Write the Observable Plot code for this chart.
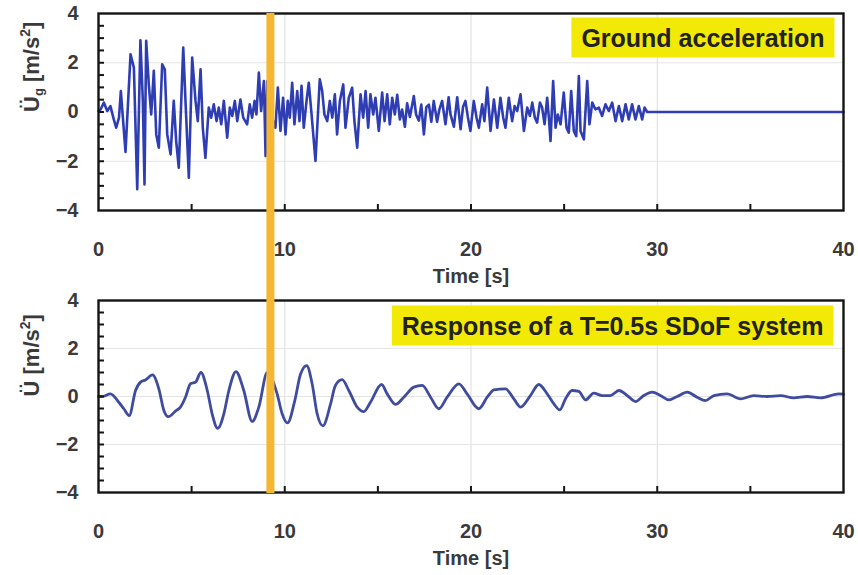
<!DOCTYPE html>
<html>
<head>
<meta charset="utf-8">
<script src="https://cdn.jsdelivr.net/npm/d3@7"></script>
<script src="https://cdn.jsdelivr.net/npm/@observablehq/plot@0.6"></script>
<style>
  html, body { margin: 0; padding: 0; background: #fff; }
  #wrap { position: relative; width: 858px; height: 575px; overflow: hidden; }
  #wrap svg { position: absolute; left: 0; }
</style>
</head>
<body>
<div id="wrap"></div>
<script>
// ---- data ----
const gTime = [0.00,0.11,0.29,0.47,0.64,0.82,0.95,1.10,1.20,1.45,1.72,1.90,2.08,2.25,2.38,2.47,2.56,2.70,2.83,2.97,3.10,3.24,3.42,3.56,3.69,3.87,4.04,4.17,4.31,4.55,4.67,4.85,5.03,5.21,5.33,5.48,5.60,5.74,5.92,6.05,6.19,6.34,6.46,6.59,6.73,6.91,7.05,7.18,7.32,7.45,7.62,7.77,7.98,8.12,8.25,8.38,8.48,8.61,8.73,8.88,8.97,9.06,9.20,9.35,9.50,9.63,9.77,9.91,10.04,10.16,10.27,10.40,10.52,10.67,10.79,10.90,11.02,11.17,11.29,11.44,11.65,11.88,12.01,12.13,12.28,12.42,12.55,12.69,12.81,12.96,13.14,13.26,13.44,13.62,13.74,13.89,14.07,14.21,14.34,14.48,14.60,14.75,14.87,15.05,15.23,15.36,15.50,15.64,15.77,15.91,16.04,16.18,16.30,16.45,16.57,16.72,16.93,17.05,17.20,17.33,17.47,17.60,17.74,17.87,18.00,18.18,18.30,18.45,18.63,18.80,18.90,19.08,19.26,19.44,19.57,19.70,19.83,19.97,20.15,20.30,20.42,20.60,20.72,20.87,21.05,21.23,21.41,21.58,21.73,21.85,22.03,22.21,22.34,22.48,22.66,22.84,23.02,23.16,23.29,23.43,23.55,23.70,23.82,23.95,24.09,24.18,24.27,24.41,24.54,24.66,24.81,24.98,25.13,25.25,25.38,25.52,25.65,25.79,25.88,26.06,26.24,26.36,26.51,26.68,26.86,27.04,27.22,27.40,27.58,27.76,27.94,28.12,28.30,28.47,28.65,28.83,29.01,29.19,29.32,29.46,30.60,40.00];
const gAcc  = [0.05,0.10,0.38,0.04,0.24,-0.30,-0.64,-0.23,0.85,-1.62,2.34,1.80,-3.14,2.91,0.45,-2.94,2.89,1.12,-0.10,1.67,-0.91,-1.45,1.94,1.73,-0.91,-1.72,0.45,-1.18,-2.26,2.62,0.45,-2.67,2.21,0.45,-0.37,1.73,-0.64,-1.86,0.18,-0.23,0.31,-0.37,0.18,-0.50,0.45,-1.04,0.18,-0.16,0.45,-0.37,0.51,-0.23,-0.50,0.31,-0.23,0.45,-0.10,1.60,0.04,1.26,-1.79,1.26,0.00,-0.30,-0.64,0.99,-0.77,0.58,-0.91,0.45,-0.23,1.19,-0.50,0.85,-0.37,1.06,-0.64,0.45,1.19,-0.10,-1.99,1.33,0.85,-0.10,-0.37,0.45,-0.23,0.72,-0.91,0.45,1.12,-0.64,0.58,0.99,-0.37,-1.45,0.72,-0.23,0.85,-0.64,0.72,-0.10,0.58,-0.77,0.79,-0.37,0.72,-0.50,0.58,-0.10,0.70,-0.30,0.10,-0.60,0.35,-0.20,0.65,-0.10,-0.35,0.30,-0.91,0.20,0.30,-0.40,0.45,-0.40,0.10,0.45,-0.50,0.60,-0.10,-0.60,0.60,-0.70,0.20,0.45,-0.20,-0.77,0.45,-0.23,-0.64,0.31,-0.37,0.99,-0.77,0.51,-0.64,0.58,-0.23,-0.64,0.58,-0.37,0.24,0.04,0.72,-0.77,0.18,-0.16,0.38,-0.23,-0.43,0.38,0.18,-0.50,0.58,-0.23,-1.18,1.26,-0.64,-0.10,-0.50,0.79,-0.64,-0.84,0.85,-0.77,-0.98,1.46,-0.77,-1.11,1.26,-0.50,0.38,0.11,0.18,-0.16,0.31,0.04,0.38,-0.37,0.24,-0.37,0.31,-0.30,0.31,-0.30,0.24,-0.30,0.18,0.00,0.00,0.00];

const rTime = [0.00,0.20,0.64,1.09,1.36,1.65,1.99,2.26,2.52,2.90,3.24,3.51,3.75,4.13,4.40,4.67,4.94,5.21,5.50,5.84,6.10,6.40,6.73,7.00,7.38,7.80,8.25,8.61,9.06,9.59,9.86,10.15,10.54,10.85,11.18,11.47,11.74,12.05,12.46,12.72,13.08,13.44,13.89,14.25,14.60,15.20,15.50,15.95,16.39,16.93,17.38,17.83,18.27,18.72,19.35,19.79,20.42,20.87,21.23,21.85,22.30,22.66,23.19,23.64,24.09,24.45,24.77,25.07,25.43,25.79,26.15,26.59,27.04,27.49,27.94,28.39,28.83,29.28,29.73,30.17,30.62,31.07,31.61,32.14,32.59,33.04,33.75,34.47,35.18,35.90,36.62,37.33,38.05,38.77,39.75,40.00];
const rAcc  = [0.00,0.00,0.11,-0.24,-0.51,-0.80,0.25,0.60,0.69,0.90,0.32,-0.58,-0.84,-0.61,-0.44,-0.03,0.53,0.60,1.00,0.25,-0.72,-1.33,-0.72,0.25,1.04,0.25,-1.04,-0.44,1.00,0.11,-0.72,-1.10,-0.17,0.94,1.29,0.53,-0.72,-1.22,-0.31,0.46,0.70,0.25,-0.44,-0.63,-0.24,0.50,0.11,-0.33,-0.03,0.39,0.46,-0.03,-0.51,-0.03,0.53,0.11,-0.51,-0.03,0.28,0.32,-0.10,-0.44,0.04,0.50,0.11,-0.31,-0.56,-0.10,0.25,0.21,-0.14,0.14,0.04,0.04,0.25,0.04,-0.21,0.04,0.18,0.04,-0.14,0.00,0.18,-0.03,-0.17,0.04,0.11,-0.10,0.04,0.00,0.04,-0.06,0.00,-0.06,0.11,0.10];

const markerTime = [9.23];
const xDomain = [0, 40];
const yDomain = [-4, 4];
const xLabelTicks = [0, 10, 20, 30, 40];
const xMinorTicks = [5, 10, 15, 20, 25, 30, 35];
const yLabelTicks = [-4, -2, 0, 2, 4];
const yMinorTicks = d3.range(-3.5, 4, 0.5);
const xGridTicks = [10, 20, 30];
const yGridTicks = [-2, 0, 2];

const panels = [
  {title: "Ground acceleration", ylab: "ÜG", time: gTime, acc: gAcc, stroke: "#2f3db3", sw: 2.6, curve: "linear", top: 0, height: 290, mt: 13, mb: 80, tdx: -19, tdy: 25},
  {title: "Response of a T=0.5s SDoF system", ylab: "ÜR", time: rTime, acc: rAcc, stroke: "#3f4c9e", sw: 2.8, curve: "monotone-x", top: 287, height: 288, mt: 13, mb: 83, tdx: -20, tdy: 26}
];

const FONT = "'Liberation Sans', Arial, Helvetica, sans-serif";
const wrap = document.getElementById("wrap");
const NS = "http://www.w3.org/2000/svg";

for (const p of panels) {
  const data = p.time.map((t, i) => ({t, a: p.acc[i]}));
  const svg = Plot.plot({
    width: 858, height: p.height,
    marginLeft: 98, marginRight: 15, marginTop: p.mt, marginBottom: p.mb,
    x: {domain: xDomain}, y: {domain: yDomain},
    style: {fontFamily: FONT, fontWeight: "bold", color: "#333", background: "transparent"},
    marks: [
      Plot.gridX(xGridTicks, {stroke: "#dcdcdc", strokeOpacity: 1}),
      Plot.gridY(yGridTicks, {stroke: "#e4e4e4", strokeOpacity: 1}),
      Plot.line(data, {x: "t", y: "a", stroke: p.stroke, strokeWidth: p.sw, curve: p.curve, strokeLinejoin: "round"}),
      Plot.frame({stroke: "#151515", strokeWidth: 2.4}),
      Plot.axisX(xMinorTicks, {tickSize: 6, dy: -6, tickFormat: () => "", stroke: "#151515", strokeWidth: 2, label: null}),
      Plot.axisY(yMinorTicks, {tickSize: 6, dx: 6, tickFormat: () => "", stroke: "#151515", strokeWidth: 2, label: null}),
      Plot.axisX(xLabelTicks, {tickSize: 0, tickPadding: 31, fontSize: 20, fontWeight: "bold", fill: "#3a3a3a", label: null}),
      Plot.axisY(yLabelTicks, {tickSize: 0, tickPadding: 20, fontSize: 20, fontWeight: "bold", fill: "#3a3a3a", label: null}),
      Plot.text(["Time [s]"], {text: d => d, frameAnchor: "bottom", lineAnchor: "middle", dy: 66, fontSize: 20, fontWeight: "bold", fill: "#3a3a3a"}),
      Plot.text([p.ylab], {text: d => d, frameAnchor: "left", lineAnchor: "middle", rotate: -90, dx: -67, fontSize: 22, fontWeight: "bold", fill: "#3a3a3a"}),
      Plot.text([p.title], {text: d => d, frameAnchor: "top-right", lineAnchor: "middle", textAnchor: "end", dx: p.tdx, dy: p.tdy, fontSize: 25, fontWeight: "bold", fill: "#222"})
    ]
  });
  svg.style.top = p.top + "px";
  wrap.appendChild(svg);

  // yellow label box behind the title text
  const texts = [...svg.querySelectorAll("text")];
  const tt = texts.find(e => e.textContent === p.title);
  if (tt) {
    const sb = svg.getBoundingClientRect();
    const b = tt.getBoundingClientRect();
    const r = document.createElementNS(NS, "rect");
    r.setAttribute("x", b.left - sb.left - 10);
    r.setAttribute("y", b.top - sb.top - 6);
    r.setAttribute("width", b.width + 20);
    r.setAttribute("height", b.height + 12);
    r.setAttribute("fill", "#f2ea06");
    let g = tt; while (g.parentNode !== svg) g = g.parentNode;
    svg.insertBefore(r, g);
  }
  // rich y label: Ü with subscript g / superscript 2
  const yl = texts.find(e => e.textContent === p.ylab);
  if (yl) {
    while (yl.firstChild) yl.removeChild(yl.firstChild);
    const add = (s, opts = {}) => {
      const ts = document.createElementNS(NS, "tspan");
      ts.textContent = s;
      for (const k in opts) ts.setAttribute(k, opts[k]);
      yl.appendChild(ts);
    };
    add("Ü");
    if (p.ylab === "ÜG") { add("g", {"font-size": 13, dy: 4}); add(" [m/s", {dy: -4}); }
    else add(" [m/s");
    add("2", {"font-size": 14, dy: -9});
    add("]", {dy: 9});
  }
}

// orange time marker spanning both panels
const overlay = Plot.plot({
  width: 858, height: 575,
  marginLeft: 98, marginRight: 15, marginTop: 13, marginBottom: 82,
  x: {domain: xDomain, axis: null},
  style: {background: "transparent"},
  marks: [Plot.ruleX(markerTime, {stroke: "#f5b731", strokeWidth: 8})]
});
overlay.style.top = "0px";
overlay.style.pointerEvents = "none";
wrap.appendChild(overlay);
</script>
</body>
</html>
